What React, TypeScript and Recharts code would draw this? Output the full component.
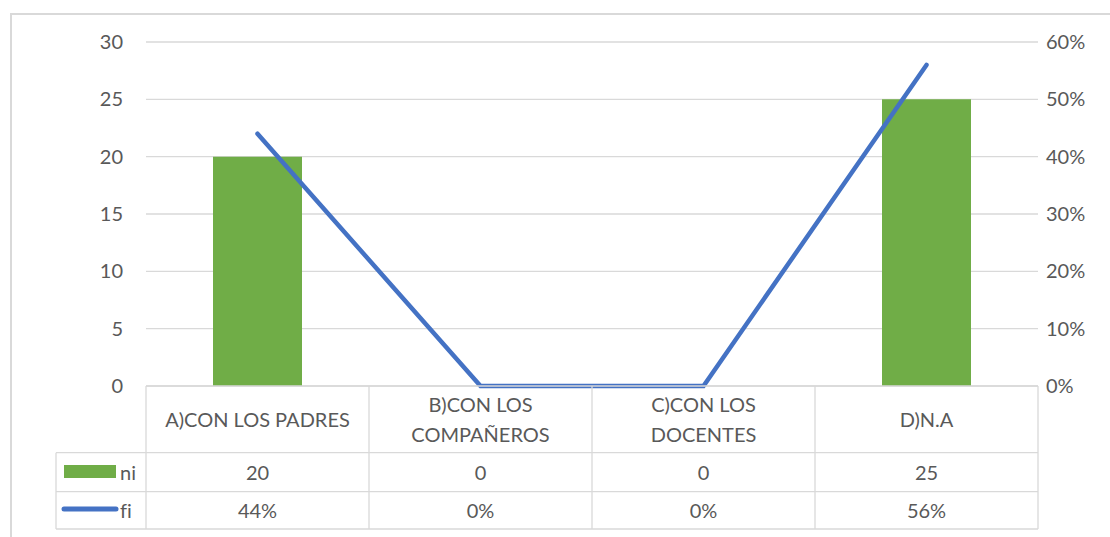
import React from "react";
import { Bar, CartesianGrid, ComposedChart, Line, XAxis, YAxis } from "recharts";

const categories = ["A)CON LOS PADRES", "B)CON LOS COMPAÑEROS", "C)CON LOS DOCENTES", "D)N.A"];
const categoryLines = [["A)CON LOS PADRES"], ["B)CON LOS", "COMPAÑEROS"], ["C)CON LOS", "DOCENTES"], ["D)N.A"]];
const ni = [20, 0, 0, 25];
const fi = [0.44, 0, 0, 0.56];
const leftTicks = [0, 5, 10, 15, 20, 25, 30];
const rightTicks = [0, 0.1, 0.2, 0.3, 0.4, 0.5, 0.6];

const GREEN = "#70AD47";
const BLUE = "#4472C4";
const GRID = "#d9d9d9";
const TEXT = "#595959";
const FONT = "Lato, 'Open Sans', sans-serif";
const FS = 20;

const W = 1110;
const H = 537;
const LEFT = 146;
const RIGHT = 72;
const BAND = (W - LEFT - RIGHT) / categories.length;

const pct = (v: number) => `${Math.round(v * 100)}%`;

const rows = categories.map((c, i) => ({ name: c, ni: ni[i], fi: fi[i] }));

// row bottoms, measured from the axis line
const R1 = 66.7;
const R2 = 105.7;
const R3 = 143;

const noLig = { fontVariantLigatures: "none" as const };

function TableTick(props: any) {
  const { x, y, payload } = props;
  const i = payload.index as number;
  const l = x - BAND / 2;
  const r = x + BAND / 2;
  const lines = categoryLines[i];
  const headMid = y + R1 / 2;
  const lh = 30;
  const startY = headMid - ((lines.length - 1) * lh) / 2;
  const txt = { fill: TEXT, fontSize: FS, fontFamily: FONT, textAnchor: "middle" as const, dominantBaseline: "central" as const, style: noLig };
  return (
    <g>
      <line x1={l} y1={y} x2={l} y2={y + R3} stroke={GRID} strokeWidth={1.3} />
      {i === categories.length - 1 && <line x1={r} y1={y} x2={r} y2={y + R3} stroke={GRID} strokeWidth={1.3} />}
      {[R1, R2, R3].map((d) => (
        <line key={d} x1={l} y1={y + d} x2={r} y2={y + d} stroke={GRID} strokeWidth={1.3} />
      ))}
      {lines.map((t, k) => (
        <text key={t} x={x} y={startY + k * lh} {...txt}>{t}</text>
      ))}
      <text x={x} y={y + (R1 + R2) / 2} {...txt}>{ni[i]}</text>
      <text x={x} y={y + (R2 + R3) / 2} {...txt}>{pct(fi[i])}</text>
      {i === 0 && (
        <g>
          {[R1, R2, R3].map((d) => (
            <line key={d} x1={56} y1={y + d} x2={l} y2={y + d} stroke={GRID} strokeWidth={1.3} />
          ))}
          <line x1={56} y1={y + R1} x2={56} y2={y + R3} stroke={GRID} strokeWidth={1.3} />
          <rect x={64} y={y + 79} width={52} height={13} fill={GREEN} />
          <text x={120} y={y + (R1 + R2) / 2} fill={TEXT} fontSize={FS} fontFamily={FONT} dominantBaseline="central" style={noLig}>ni</text>
          <line x1={64} y1={y + 123} x2={116} y2={y + 123} stroke={BLUE} strokeWidth={5} strokeLinecap="round" />
          <text x={120} y={y + (R2 + R3) / 2} fill={TEXT} fontSize={FS} fontFamily={FONT} dominantBaseline="central" style={noLig}>fi</text>
        </g>
      )}
    </g>
  );
}

export default function App() {
  return (
    <div style={{ position: "absolute", left: 0, top: 0, width: W, height: H, background: "#fff", overflow: "hidden" }}>
      <div style={{ position: "absolute", left: 10, top: 13, width: W, height: H, border: `2px solid ${GRID}`, boxSizing: "border-box" }} />
      <div style={{ position: "absolute", left: 0, top: 0 }}>
        <ComposedChart width={W} height={H} data={rows} margin={{ top: 42, right: 0, bottom: 0, left: 0 }} barCategoryGap={0}>
          <CartesianGrid vertical={false} stroke={GRID} strokeWidth={1.3} yAxisId="left" />
          <XAxis
            dataKey="name"
            height={151}
            tickLine={false}
            tickSize={0}
            tickMargin={0}
            axisLine={{ stroke: GRID, strokeWidth: 1.3 }}
            tick={<TableTick />}
            interval={0}
          />
          <YAxis
            yAxisId="left"
            width={LEFT}
            domain={[0, 30]}
            ticks={leftTicks}
            axisLine={false}
            tickLine={false}
            tickSize={0}
            tickMargin={23}
            tick={{ fill: TEXT, fontSize: FS, fontFamily: FONT }}
          />
          <YAxis
            yAxisId="right"
            orientation="right"
            width={RIGHT}
            domain={[0, 0.6]}
            ticks={rightTicks}
            tickFormatter={pct}
            axisLine={false}
            tickLine={false}
            tickSize={0}
            tickMargin={8}
            tick={{ fill: TEXT, fontSize: FS, fontFamily: FONT, textAnchor: "start" }}
          />
          <Bar yAxisId="left" dataKey="ni" fill={GREEN} barSize={89} isAnimationActive={false} />
          <Line
            yAxisId="right"
            dataKey="fi"
            type="linear"
            stroke={BLUE}
            strokeWidth={4.5}
            strokeLinecap="round"
            dot={false}
            activeDot={false}
            isAnimationActive={false}
          />
        </ComposedChart>
      </div>
    </div>
  );
}
